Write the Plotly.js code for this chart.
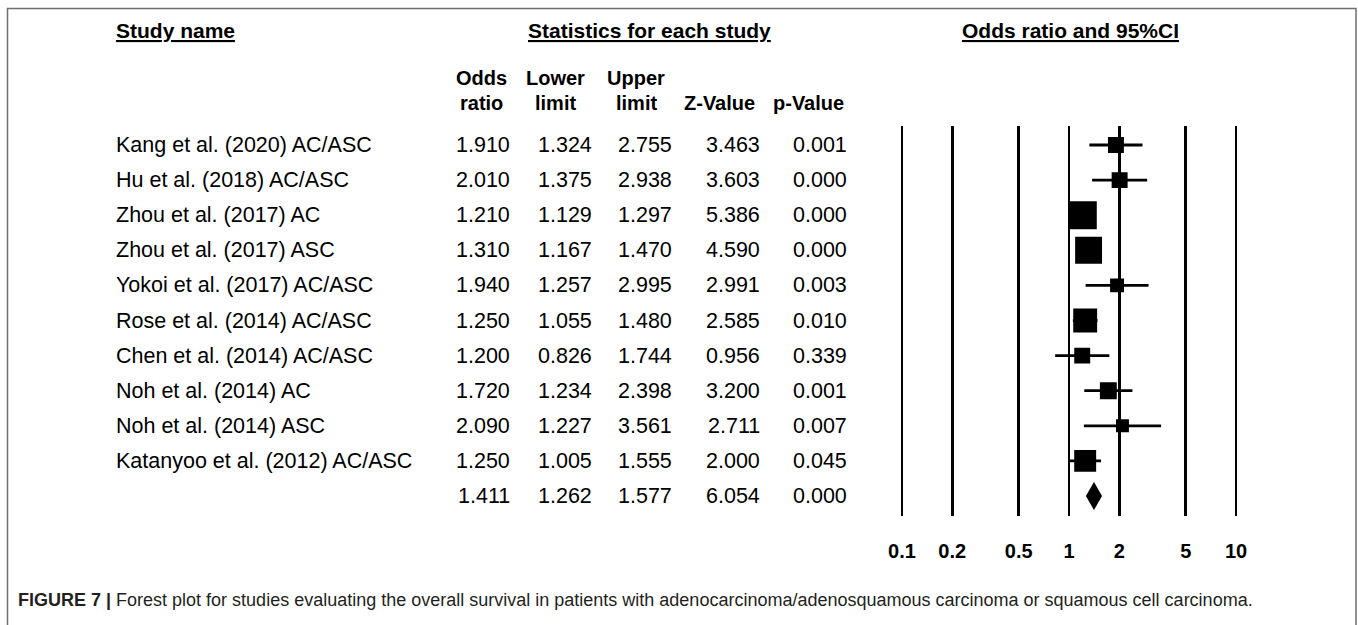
<!DOCTYPE html>
<html><head><meta charset="utf-8">
<script src="https://cdn.plot.ly/plotly-3.0.1.min.js"></script>
<style>html,body{margin:0;padding:0;background:#fff;}</style>
</head><body><div id="chart" style="width:1358px;height:625px;"></div>
<script>
// ---- data ----
const studyNames = [
  'Kang et al. (2020) AC/ASC',
  'Hu et al. (2018) AC/ASC',
  'Zhou et al. (2017) AC',
  'Zhou et al. (2017) ASC',
  'Yokoi et al. (2017) AC/ASC',
  'Rose et al. (2014) AC/ASC',
  'Chen et al. (2014) AC/ASC',
  'Noh et al. (2014) AC',
  'Noh et al. (2014) ASC',
  'Katanyoo et al. (2012) AC/ASC'
];
const oddsRatio  = [1.910, 2.010, 1.210, 1.310, 1.940, 1.250, 1.200, 1.720, 2.090, 1.250];
const lowerLimit = [1.324, 1.375, 1.129, 1.167, 1.257, 1.055, 0.826, 1.234, 1.227, 1.005];
const upperLimit = [2.755, 2.938, 1.297, 1.470, 2.995, 1.480, 1.744, 2.398, 3.561, 1.555];
const zValue     = [3.463, 3.603, 5.386, 4.590, 2.991, 2.585, 0.956, 3.200, 2.711, 2.000];
const pValue     = [0.001, 0.000, 0.000, 0.000, 0.003, 0.010, 0.339, 0.001, 0.007, 0.045];
const relWeight  = [6.4, 6.4, 19.6, 18.2, 4.9, 14.4, 6.4, 7.2, 4.2, 12.1];
const pooledOR = 1.411, pooledLower = 1.262, pooledUpper = 1.577, pooledZ = 6.054, pooledP = 0.000;
const tickValues = [0.1, 0.2, 0.5, 1, 2, 5, 10];
const tickLabels = ['0.1', '0.2', '0.5', '1', '2', '5', '10'];
const columnHeaders = [['Odds', 'ratio'], ['Lower', 'limit'], ['Upper', 'limit'], ['', 'Z-Value'], ['', 'p-Value']];
const sectionHeaders = ['Study name', 'Statistics for each study', 'Odds ratio and 95%CI'];
const captionLabel = 'FIGURE 7 |';
const captionText = 'Forest plot for studies evaluating the overall survival in patients with adenocarcinoma/adenosquamous carcinoma or squamous cell carcinoma.';

// ---- layout helpers ----
const W = 1358, H = 625;
const px = v => v / W;
const py = v => 1 - v / H;
const FONT = 'Liberation Sans, Arial, sans-serif';
const nStudies = studyNames.length;
const pooledRow = nStudies;
const rows = studyNames.map((_, i) => i);

const traces = [];
// CI lines
traces.push({
  type: 'scatter', mode: 'markers', x: oddsRatio, y: rows,
  marker: {size: 0.1, color: 'rgba(0,0,0,0)'},
  error_x: {type: 'data', symmetric: false,
    array: upperLimit.map((u, i) => u - oddsRatio[i]),
    arrayminus: lowerLimit.map((l, i) => oddsRatio[i] - l),
    color: '#000', thickness: 2.8, width: 0},
  hoverinfo: 'skip', showlegend: false
});
// weight boxes
traces.push({
  type: 'scatter', mode: 'markers', x: oddsRatio, y: rows,
  marker: {symbol: 'square', color: '#000', opacity: 1, size: relWeight.map(w => 6.3 * Math.sqrt(w)), line: {width: 0}},
  showlegend: false
});
// pooled diamond
const dh = 0.4;
traces.push({
  type: 'scatter', mode: 'lines',
  x: [pooledLower, pooledOR, pooledUpper, pooledOR, pooledLower],
  y: [pooledRow, pooledRow - dh, pooledRow, pooledRow + dh, pooledRow],
  fill: 'toself', fillcolor: '#000', line: {width: 0, color: '#000'},
  showlegend: false
});

const ann = [];
const txt = (x, y, text, opts) => Object.assign({x: x, y: y, text: text, showarrow: false,
  xref: 'paper', yref: 'paper', font: {family: FONT, size: 21, color: '#000'}, borderpad: 0}, opts || {});

// section headers
const hFont = {family: FONT, size: 21, color: '#000', weight: 'bold'};
ann.push(txt(px(115), py(31), '<u>' + sectionHeaders[0] + '</u>', {xanchor: 'left', yanchor: 'middle', font: hFont}));
ann.push(txt(px(649), py(31), '<u>' + sectionHeaders[1] + '</u>', {xanchor: 'center', yanchor: 'middle', font: hFont}));
ann.push(txt(px(1070), py(31), '<u>' + sectionHeaders[2] + '</u>', {xanchor: 'center', yanchor: 'middle', font: hFont}));

// column headers
const headerCenters = [481, 555, 636, 719, 808];
const valueRight = [511, 593, 673, 761, 848];
const chFont = {family: FONT, size: 20, color: '#000', weight: 'bold'};
columnHeaders.forEach((h, c) => {
  if (h[0]) ann.push(txt(px(headerCenters[c]), py(78), h[0], {xanchor: 'center', yanchor: 'middle', font: chFont}));
  ann.push(txt(px(headerCenters[c]), py(103), h[1], {xanchor: 'center', yanchor: 'middle', font: chFont}));
});

// table rows
const rowFont = {family: FONT, size: 21.5, color: '#000'};
const fmt = v => v.toFixed(3);
studyNames.forEach((name, i) => {
  ann.push(txt(px(115), i, name, {yref: 'y', xanchor: 'left', yanchor: 'middle', font: rowFont}));
  [oddsRatio[i], lowerLimit[i], upperLimit[i], zValue[i], pValue[i]].forEach((v, c) => {
    ann.push(txt(px(valueRight[c]), i, fmt(v), {yref: 'y', xanchor: 'right', yanchor: 'middle', font: rowFont}));
  });
});
[pooledOR, pooledLower, pooledUpper, pooledZ, pooledP].forEach((v, c) => {
  ann.push(txt(px(valueRight[c]), pooledRow, fmt(v), {yref: 'y', xanchor: 'right', yanchor: 'middle', font: rowFont}));
});

// caption
ann.push(txt(px(17), py(600), '<b>' + captionLabel + '</b> ' + captionText,
  {xanchor: 'left', yanchor: 'middle', font: {family: FONT, size: 18, color: '#231f20'}}));

// axis geometry: 0.1 at x=902, 10 at x=1236 ; plot rows 126..516
const decadePx = (1236 - 902) / 2;
const xPad = 0.1;
const xDomain = [px(902 - xPad * decadePx), px(1236 + xPad * decadePx)];
const rowSpacing = (496 - 145) / pooledRow;
const yTop = 126, yBot = 516;
const yRange = [pooledRow + (yBot - 496) / rowSpacing, -(145 - yTop) / rowSpacing];

const layout = {
  width: W, height: H,
  margin: {l: 0, r: 0, t: 0, b: 0},
  paper_bgcolor: '#fff', plot_bgcolor: '#fff',
  showlegend: false,
  xaxis: {
    type: 'log', domain: xDomain, range: [-1 - xPad, 1 + xPad],
    tickvals: tickValues, ticktext: tickLabels,
    showgrid: true, gridcolor: '#000', gridwidth: 2.8,
    zeroline: false, showline: false,
    ticks: 'outside', ticklen: 17, tickcolor: 'rgba(0,0,0,0)',
    tickfont: {family: FONT, size: 20, color: '#000', weight: 'bold'},
    fixedrange: true
  },
  yaxis: {
    domain: [py(yBot), py(yTop)], range: yRange,
    visible: false, showgrid: false, zeroline: false, fixedrange: true
  },
  shapes: [{
    type: 'rect', xref: 'paper', yref: 'paper',
    x0: px(7.5), x1: px(1356), y0: -0.05, y1: py(8.5),
    line: {color: '#6e6e6e', width: 1.5}, fillcolor: 'rgba(0,0,0,0)'
  }],
  annotations: ann
};

Plotly.newPlot('chart', traces, layout, {displayModeBar: false, staticPlot: true});
</script>
</body></html>
